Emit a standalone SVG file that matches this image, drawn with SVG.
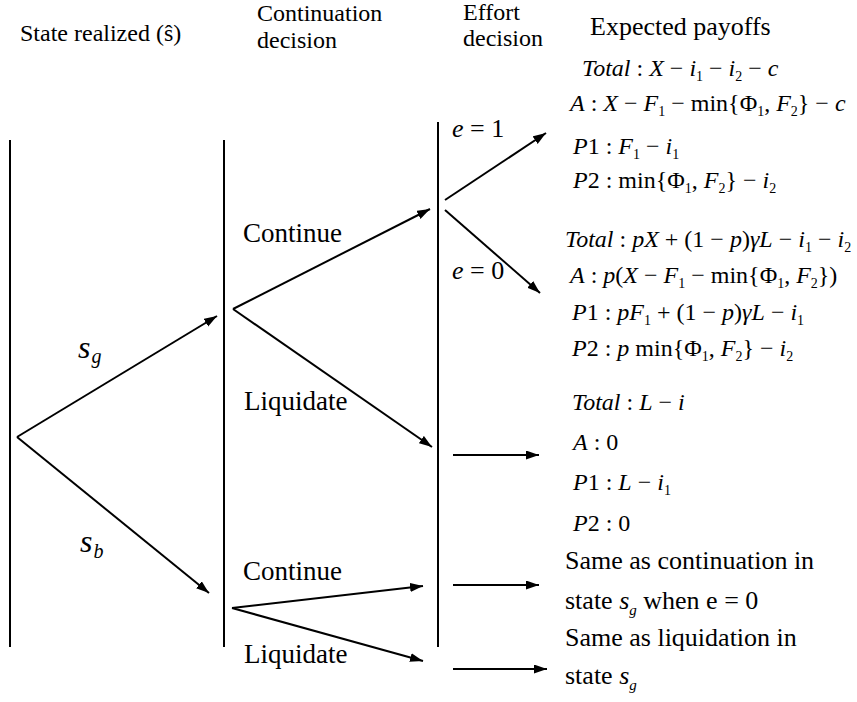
<svg xmlns="http://www.w3.org/2000/svg" width="857" height="702" viewBox="0 0 857 702">
<style>
.tx{font-family:"Liberation Serif","Times New Roman",serif;font-size:24px;fill:#000}
.lb{font-family:"Liberation Serif","Times New Roman",serif;font-size:27px;fill:#000}
.pl{font-family:"Liberation Serif","Times New Roman",serif;font-size:26px;fill:#000}
.m{font-family:"Liberation Serif","Times New Roman",serif;font-size:24px;fill:#000}
.it{font-style:italic}
.sb{font-size:14px}
.ln{stroke:#000;stroke-width:2;fill:none}
</style>
<defs>
<marker id="ah" markerUnits="userSpaceOnUse" markerWidth="14" markerHeight="10" refX="13" refY="4.5" orient="auto">
<path d="M0,0 L13,4.5 L0,9 z" fill="#000"/>
</marker>
</defs>
<rect width="857" height="702" fill="#fff"/>

<g id="headers">
<text class="tx" x="20" y="41">State realized (ŝ)</text>
<text class="tx" x="257" y="21">Continuation</text>
<text class="tx" x="257" y="48">decision</text>
<text class="tx" x="463" y="20">Effort</text>
<text class="tx" x="463" y="46">decision</text>
<text class="pl" x="590" y="35">Expected payoffs</text>
</g>

<g id="stages" class="ln">
<line x1="10" y1="140" x2="10" y2="647"/>
<line x1="224" y1="140" x2="224" y2="647"/>
<line x1="438" y1="122" x2="438" y2="647"/>
</g>

<g id="connectors" class="ln">
<line x1="17" y1="437" x2="217" y2="316" marker-end="url(#ah)"/>
<line x1="17" y1="437" x2="209" y2="593" marker-end="url(#ah)"/>
<line x1="233" y1="309" x2="430" y2="209" marker-end="url(#ah)"/>
<line x1="233" y1="309" x2="432" y2="447" marker-end="url(#ah)"/>
<line x1="445" y1="200" x2="546" y2="133" marker-end="url(#ah)"/>
<line x1="445" y1="210" x2="540" y2="293" marker-end="url(#ah)"/>
<line x1="232" y1="608" x2="423" y2="586" marker-end="url(#ah)"/>
<line x1="232" y1="608" x2="423" y2="661" marker-end="url(#ah)"/>
<line x1="453" y1="455" x2="539" y2="455" marker-end="url(#ah)"/>
<line x1="453" y1="585" x2="539" y2="585" marker-end="url(#ah)"/>
<line x1="453" y1="669" x2="547" y2="669" marker-end="url(#ah)"/>
</g>

<g id="state-good">
<text class="m" x="78" y="358"><tspan class="it" font-size="32px">s</tspan><tspan class="it" font-size="20px" dx="1" dy="5">g</tspan></text>
</g>
<g id="state-bad">
<text class="m" x="80" y="552"><tspan class="it" font-size="32px">s</tspan><tspan class="it" font-size="20px" dx="1" dy="6">b</tspan></text>
</g>

<g id="good-continue"><text class="lb" x="243" y="242">Continue</text></g>
<g id="good-liquidate"><text class="lb" x="244" y="410">Liquidate</text></g>
<g id="bad-continue"><text class="lb" x="243" y="580">Continue</text></g>
<g id="bad-liquidate"><text class="lb" x="244" y="663">Liquidate</text></g>

<g id="effort-1"><text class="pl" x="452" y="137"><tspan class="it">e</tspan> = 1</text></g>
<g id="effort-0"><text class="pl" x="452" y="279"><tspan class="it">e</tspan> = 0</text></g>

<g id="payoff-effort1">
<text class="m" x="582" y="76"><tspan class="it">Total</tspan> : <tspan class="it">X</tspan> − <tspan class="it">i</tspan><tspan class="sb" dy="5">1</tspan><tspan dy="-5"> − </tspan><tspan class="it">i</tspan><tspan class="sb" dy="5">2</tspan><tspan dy="-5"> − </tspan><tspan class="it">c</tspan></text>
<text class="m" x="570" y="111"><tspan class="it">A</tspan> : <tspan class="it">X</tspan> − <tspan class="it">F</tspan><tspan class="sb" dy="5">1</tspan><tspan dy="-5"> − min{Φ</tspan><tspan class="sb" dy="5">1</tspan><tspan dy="-5">, </tspan><tspan class="it">F</tspan><tspan class="sb" dy="5">2</tspan><tspan dy="-5">} − </tspan><tspan class="it">c</tspan></text>
<text class="m" x="573" y="154"><tspan class="it">P</tspan>1 : <tspan class="it">F</tspan><tspan class="sb" dy="5">1</tspan><tspan dy="-5"> − </tspan><tspan class="it">i</tspan><tspan class="sb" dy="5">1</tspan></text>
<text class="m" x="573" y="188"><tspan class="it">P</tspan>2 : min{Φ<tspan class="sb" dy="5">1</tspan><tspan dy="-5">, </tspan><tspan class="it">F</tspan><tspan class="sb" dy="5">2</tspan><tspan dy="-5">} − </tspan><tspan class="it">i</tspan><tspan class="sb" dy="5">2</tspan></text>
</g>

<g id="payoff-effort0">
<text class="m" x="565" y="247"><tspan class="it">Total</tspan> : <tspan class="it">pX</tspan> + (1 − <tspan class="it">p</tspan>)<tspan class="it">γL</tspan> − <tspan class="it">i</tspan><tspan class="sb" dy="5">1</tspan><tspan dy="-5"> − </tspan><tspan class="it">i</tspan><tspan class="sb" dy="5">2</tspan></text>
<text class="m" x="570" y="283"><tspan class="it">A</tspan> : <tspan class="it">p</tspan>(<tspan class="it">X</tspan> − <tspan class="it">F</tspan><tspan class="sb" dy="5">1</tspan><tspan dy="-5"> − min{Φ</tspan><tspan class="sb" dy="5">1</tspan><tspan dy="-5">, </tspan><tspan class="it">F</tspan><tspan class="sb" dy="5">2</tspan><tspan dy="-5">})</tspan></text>
<text class="m" x="572" y="320"><tspan class="it">P</tspan>1 : <tspan class="it">pF</tspan><tspan class="sb" dy="5">1</tspan><tspan dy="-5"> + (1 − </tspan><tspan class="it">p</tspan>)<tspan class="it">γL</tspan> − <tspan class="it">i</tspan><tspan class="sb" dy="5">1</tspan></text>
<text class="m" x="572" y="356"><tspan class="it">P</tspan>2 : <tspan class="it">p</tspan> min{Φ<tspan class="sb" dy="5">1</tspan><tspan dy="-5">, </tspan><tspan class="it">F</tspan><tspan class="sb" dy="5">2</tspan><tspan dy="-5">} − </tspan><tspan class="it">i</tspan><tspan class="sb" dy="5">2</tspan></text>
</g>

<g id="payoff-liquidate">
<text class="m" x="572" y="410"><tspan class="it">Total</tspan> : <tspan class="it">L</tspan> − <tspan class="it">i</tspan></text>
<text class="m" x="573" y="450"><tspan class="it">A</tspan> : 0</text>
<text class="m" x="573" y="490"><tspan class="it">P</tspan>1 : <tspan class="it">L</tspan> − <tspan class="it">i</tspan><tspan class="sb" dy="5">1</tspan></text>
<text class="m" x="573" y="531"><tspan class="it">P</tspan>2 : 0</text>
</g>

<g id="payoff-bad-continue">
<text class="pl" x="565" y="569">Same as continuation in</text>
<text class="pl" x="565" y="609">state <tspan class="it">s</tspan><tspan class="it" font-size="15px" dy="6">g</tspan><tspan dy="-6">  when e = 0</tspan></text>
</g>
<g id="payoff-bad-liquidate">
<text class="pl" x="565" y="646">Same as liquidation in</text>
<text class="pl" x="565" y="684">state <tspan class="it">s</tspan><tspan class="it" font-size="15px" dy="6">g</tspan></text>
</g>
</svg>
